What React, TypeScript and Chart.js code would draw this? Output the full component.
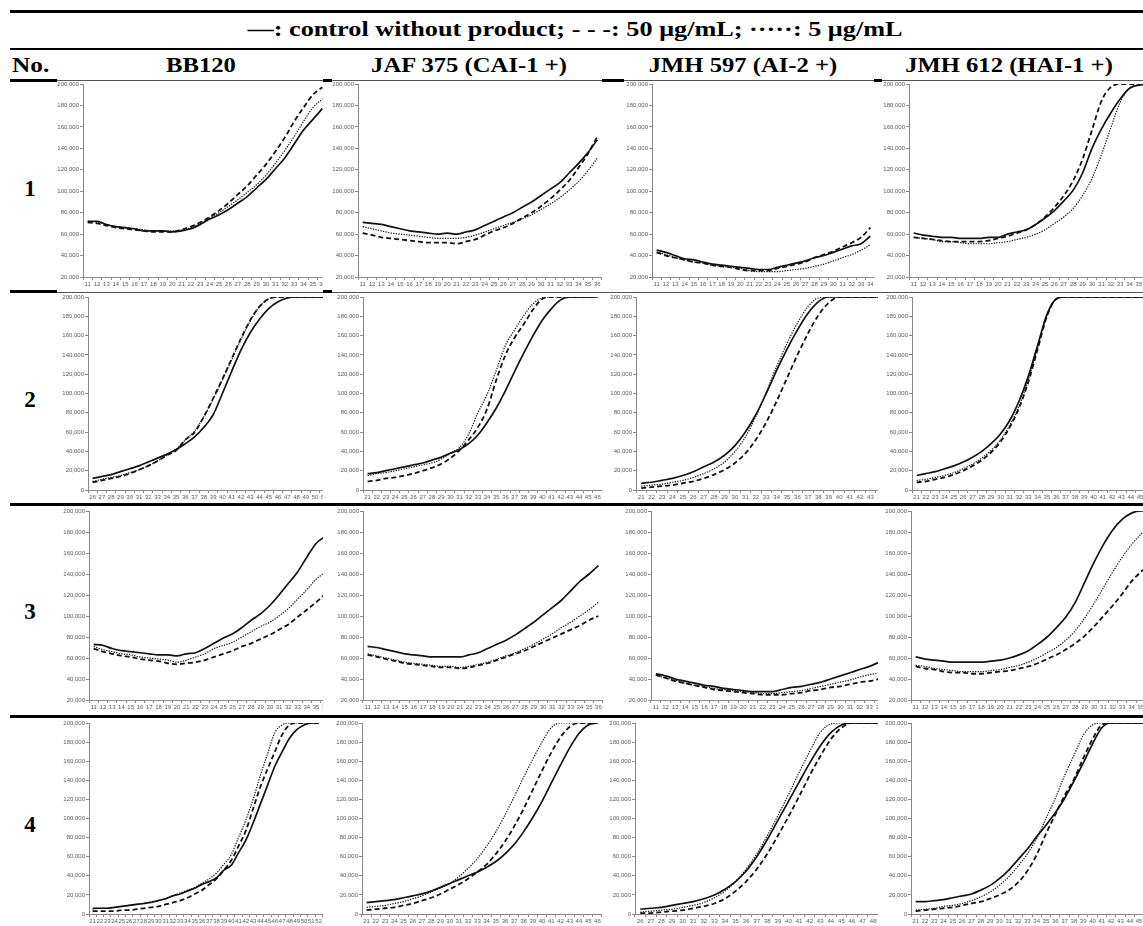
import React, { useEffect, useRef } from 'react';
import { Chart, registerables } from 'chart.js';
Chart.register(...registerables);

// ---------- category labels (cycle numbers) ----------
const cats11to36 = ['11','12','13','14','15','16','17','18','19','20','21','22','23','24','25','26','27','28','29','30','31','32','33','34','35','36'];
const cats11to34 = ['11','12','13','14','15','16','17','18','19','20','21','22','23','24','25','26','27','28','29','30','31','32','33','34'];
const cats26to51 = ['26','27','28','29','30','31','32','33','34','35','36','37','38','39','40','41','42','43','44','45','46','47','48','49','50','51'];
const cats21to46 = ['21','22','23','24','25','26','27','28','29','30','31','32','33','34','35','36','37','38','39','40','41','42','43','44','45','46'];
const cats21to44 = ['21','22','23','24','25','26','27','28','29','30','31','32','33','34','35','36','37','38','39','40','41','42','43','44'];
const cats21to52 = ['21','22','23','24','25','26','27','28','29','30','31','32','33','34','35','36','37','38','39','40','41','42','43','44','45','46','47','48','49','50','51','52'];
const cats26to49 = ['26','27','28','29','30','31','32','33','34','35','36','37','38','39','40','41','42','43','44','45','46','47','48','49'];

// ---------- series values (thousands of RLU) ----------
// Row 1
const r1BB120Control = [72,72,69,67,66,65,63,63,63,62,63,65,69,74,78,83,89,95,103,111,121,131,144,157,167,177];
const r1BB120Dose50 = [71,70,68,66,65,64,63,62,62,62,64,67,71,76,82,89,97,105,115,125,137,150,165,178,190,197];
const r1BB120Dose5 = [72,71,69,67,66,65,64,63,63,63,64,66,70,75,80,86,92,99,106,115,126,138,151,165,178,186];
const r1JAFControl = [71,70,69,67,65,63,62,61,60,61,60,62,64,68,72,76,80,85,90,96,102,108,117,126,136,148];
const r1JAFDose50 = [61,59,57,56,55,54,53,52,52,52,51,53,55,59,63,66,70,75,80,86,93,101,110,122,135,151];
const r1JAFDose5 = [67,65,63,61,60,59,58,57,56,56,56,57,59,62,65,68,71,74,78,83,88,94,101,109,119,131];
const r1JMH597Control = [45,43,40,37,36,34,32,31,30,29,28,27,27,29,31,33,35,38,40,43,46,49,51,58];
const r1JMH597Dose50 = [43,40,38,36,34,33,31,30,29,27,26,26,26,28,30,32,34,38,41,44,48,52,57,66];
const r1JMH597Dose5 = [43,41,38,36,34,33,31,30,29,28,26,25,25,25,26,27,28,30,32,35,38,41,45,50];
const r1JMH612Control = [61,59,58,57,57,56,56,56,57,57,60,62,64,69,75,82,91,101,117,140,158,173,186,196,199,200];
const r1JMH612Dose50 = [57,56,55,54,53,53,53,53,54,56,58,61,64,69,76,85,96,110,130,157,184,197,200,200,200,200];
const r1JMH612Dose5 = [57,56,55,53,53,52,51,51,51,52,53,55,57,60,64,70,76,84,96,112,134,159,183,196,199,200];
// Row 2
const r2BB120Control = [12,14,16,19,22,25,29,33,37,42,48,55,65,78,100,123,145,163,177,188,195,199,200,200,200,200];
const r2BB120Dose50 = [8,10,12,14,17,21,25,30,36,41,52,60,76,95,115,136,157,176,190,198,200,200,200,200,200,200];
const r2BB120Dose5 = [9,11,13,15,18,21,25,30,36,42,52,61,76,94,114,135,156,175,190,198,200,200,200,200,200,200];
const r2JAFControl = [17,18,20,22,24,26,28,31,34,38,42,48,57,70,85,103,123,142,160,176,188,197,200,200,200,200];
const r2JAFDose50 = [9,10,12,13,15,17,20,23,27,33,41,52,65,84,114,140,158,172,187,198,200,200,200,200,200,200];
const r2JAFDose5 = [15,17,18,20,22,24,26,28,32,38,44,58,80,99,124,150,166,181,193,199,200,200,200,200,200,200];
const r2JMH597Control = [7,8,10,12,15,19,24,29,36,46,60,78,100,124,146,166,183,195,200,200,200,200,200,200];
const r2JMH597Dose50 = [2,3,4,5,7,9,12,16,21,28,38,52,70,92,116,140,162,181,194,200,200,200,200,200];
const r2JMH597Dose5 = [4,5,6,8,10,13,17,22,29,40,55,76,101,128,152,173,190,199,200,200,200,200,200,200];
const r2JMH612Control = [15,17,19,22,25,29,34,40,48,58,72,92,118,150,182,198,200,200,200,200,200,200,200,200,200,200];
const r2JMH612Dose50 = [8,9,11,13,16,20,25,31,39,50,65,85,112,146,180,198,200,200,200,200,200,200,200,200,200,200];
const r2JMH612Dose5 = [10,11,13,15,18,22,27,33,41,52,67,87,114,148,181,198,200,200,200,200,200,200,200,200,200,200];
// Row 3
const r3BB120Control = [73,72,69,67,66,65,64,63,63,62,64,65,69,74,79,83,89,96,102,110,120,131,142,156,169,176];
const r3BB120Dose50 = [69,66,64,62,61,59,58,57,55,54,55,56,58,61,64,67,71,74,78,82,87,92,99,106,113,121];
const r3BB120Dose5 = [71,68,66,64,63,61,60,59,58,56,58,61,64,69,72,75,80,85,90,94,100,107,116,125,135,142];
const r3JAFControl = [71,70,68,66,64,63,62,61,61,61,61,63,65,69,73,77,82,88,94,101,108,115,124,133,140,148];
const r3JAFDose50 = [63,61,59,57,55,54,53,52,51,51,50,51,53,55,58,61,64,67,71,75,79,83,87,91,96,100];
const r3JAFDose5 = [64,62,60,58,56,55,54,53,52,52,51,52,54,56,59,62,65,69,73,78,83,89,94,100,106,113];
const r3JMH597Control = [45,43,40,38,36,34,33,31,30,29,28,28,28,30,32,33,35,37,40,43,46,49,52,56];
const r3JMH597Dose50 = [44,41,38,36,34,32,30,29,28,27,26,25,25,25,26,27,29,30,32,33,35,37,38,40];
const r3JMH597Dose5 = [44,41,39,36,34,33,31,30,29,28,27,26,26,27,28,29,31,33,35,37,39,42,44,46];
const r3JMH612Control = [61,59,58,57,56,56,56,56,57,58,60,63,67,73,80,89,99,113,132,151,168,182,192,198,200,200];
const r3JMH612Dose50 = [52,50,49,47,46,46,45,45,46,47,48,50,52,55,59,63,68,74,81,90,100,110,121,133,142,150];
const r3JMH612Dose5 = [53,52,50,49,48,47,47,47,48,49,51,53,56,60,65,70,77,86,98,112,127,142,156,168,178,186];
// Row 4
const r4BB120Control = [6,6,6,7,8,9,10,11,12,14,16,19,21,24,27,31,34,38,46,51,64,77,95,115,135,155,170,184,193,198,200,200];
const r4BB120Dose50 = [3,3,3,3,4,4,5,6,7,8,10,12,14,17,21,25,31,37,46,56,71,87,110,133,152,170,188,198,200,200,200,200];
const r4BB120Dose5 = [5,6,6,7,8,9,10,11,13,14,16,19,22,25,28,32,37,43,52,62,80,98,120,145,168,190,198,200,200,200,200,200];
const r4JAFControl = [12,13,14,15,17,19,21,24,28,32,36,40,44,49,55,63,73,86,101,118,137,156,174,189,198,200];
const r4JAFDose50 = [4,5,6,7,9,11,14,17,21,26,31,37,44,52,63,76,92,110,130,150,169,185,196,200,200,200];
const r4JAFDose5 = [7,8,9,11,13,16,19,23,27,32,39,48,58,71,86,104,123,143,162,180,195,200,200,200,200,200];
const r4JMH597Control = [5,6,7,9,11,13,16,20,26,34,45,60,78,98,118,138,158,176,190,198,200,200,200,200];
const r4JMH597Dose50 = [1,1,2,3,4,6,8,11,16,24,34,47,63,82,102,123,145,165,183,195,200,200,200,200];
const r4JMH597Dose5 = [2,3,4,5,7,9,12,17,24,34,47,63,82,103,125,148,170,190,199,200,200,200,200,200];
const r4JMH612Control = [13,13,14,15,17,19,21,25,30,37,46,57,68,81,93,106,121,139,158,178,195,200,200,200,200,200];
const r4JMH612Dose50 = [3,4,5,6,7,9,11,13,16,20,25,33,45,62,84,104,124,141,163,183,198,200,200,200,200,200];
const r4JMH612Dose5 = [4,5,6,8,9,11,14,18,23,30,39,50,63,79,100,121,145,166,187,198,200,200,200,200,200,200];

// ---------- table text ----------
const legendText = '—: control without product; - - -: 50 μg/mL; ·····: 5 μg/mL';
const headerNo = 'No.';
const strainHeaders = ['BB120', 'JAF 375 (CAI-1 +)', 'JMH 597 (AI-2 +)', 'JMH 612 (HAI-1 +)'];
const rowNumbers = ['1', '2', '3', '4'];
const yMins = [20000, 0, 20000, 0];
const yMax = 200000;
const yStep = 20000;

type Panel = { labels: string[]; control: number[]; dose50: number[]; dose5: number[] };

const panels: Panel[][] = [
  [
    { labels: cats11to36, control: r1BB120Control, dose50: r1BB120Dose50, dose5: r1BB120Dose5 },
    { labels: cats11to36, control: r1JAFControl, dose50: r1JAFDose50, dose5: r1JAFDose5 },
    { labels: cats11to34, control: r1JMH597Control, dose50: r1JMH597Dose50, dose5: r1JMH597Dose5 },
    { labels: cats11to36, control: r1JMH612Control, dose50: r1JMH612Dose50, dose5: r1JMH612Dose5 },
  ],
  [
    { labels: cats26to51, control: r2BB120Control, dose50: r2BB120Dose50, dose5: r2BB120Dose5 },
    { labels: cats21to46, control: r2JAFControl, dose50: r2JAFDose50, dose5: r2JAFDose5 },
    { labels: cats21to44, control: r2JMH597Control, dose50: r2JMH597Dose50, dose5: r2JMH597Dose5 },
    { labels: cats21to46, control: r2JMH612Control, dose50: r2JMH612Dose50, dose5: r2JMH612Dose5 },
  ],
  [
    { labels: cats11to36, control: r3BB120Control, dose50: r3BB120Dose50, dose5: r3BB120Dose5 },
    { labels: cats11to36, control: r3JAFControl, dose50: r3JAFDose50, dose5: r3JAFDose5 },
    { labels: cats11to34, control: r3JMH597Control, dose50: r3JMH597Dose50, dose5: r3JMH597Dose5 },
    { labels: cats11to36, control: r3JMH612Control, dose50: r3JMH612Dose50, dose5: r3JMH612Dose5 },
  ],
  [
    { labels: cats21to52, control: r4BB120Control, dose50: r4BB120Dose50, dose5: r4BB120Dose5 },
    { labels: cats21to46, control: r4JAFControl, dose50: r4JAFDose50, dose5: r4JAFDose5 },
    { labels: cats26to49, control: r4JMH597Control, dose50: r4JMH597Dose50, dose5: r4JMH597Dose5 },
    { labels: cats21to46, control: r4JMH612Control, dose50: r4JMH612Dose50, dose5: r4JMH612Dose5 },
  ],
];

// ---------- layout (pixels) ----------
const rowGeom = [
  { top: 84, bottom: 277, cellTop: 81, cellBottom: 291, numTop: 177 },
  { top: 297, bottom: 490, cellTop: 294, cellBottom: 503, numTop: 388 },
  { top: 511, bottom: 700, cellTop: 507, cellBottom: 715, numTop: 600 },
  { top: 723, bottom: 914, cellTop: 719, cellBottom: 926, numTop: 813 },
];
const colGeom = [
  [ { axisX: 83, step: 9.4, clipL: 57, clipR: 323 }, { axisX: 358, step: 9.4, clipL: 330, clipR: 604 }, { axisX: 652, step: 9.3, clipL: 622, clipR: 878 }, { axisX: 909, step: 9.4, clipL: 881, clipR: 1143 } ],
  [ { axisX: 88, step: 9.25, clipL: 57, clipR: 323 }, { axisX: 363, step: 9.2, clipL: 330, clipR: 604 }, { axisX: 636, step: 10.4, clipL: 608, clipR: 878 }, { axisX: 912, step: 9.3, clipL: 881, clipR: 1143 } ],
  [ { axisX: 89, step: 9.25, clipL: 57, clipR: 323 }, { axisX: 363, step: 9.24, clipL: 330, clipR: 604 }, { axisX: 651, step: 9.7, clipL: 622, clipR: 878 }, { axisX: 911, step: 9.375, clipL: 881, clipR: 1143 } ],
  [ { axisX: 89, step: 7.3, clipL: 57, clipR: 323 }, { axisX: 362, step: 9.23, clipL: 330, clipR: 604 }, { axisX: 635, step: 10.6, clipL: 606, clipR: 878 }, { axisX: 911, step: 9.3, clipL: 881, clipR: 1143 } ],
];
const headerCenters = [201, 469, 743, 1009];

const YW = 30;
const XH = 14;
const PT = 6;
const AXIS_COLOR = '#8a8a8a';
const TICK_COLOR = '#5a5a5a';
const LINE_COLOR = '#111111';
const TICK_FONT = { family: "'Liberation Sans Narrow', 'Liberation Sans', sans-serif", size: 6 };
const SERIF = "'Liberation Serif', 'Times New Roman', serif";

function MiniChart({ panel, row, col }: { panel: Panel; row: number; col: number }) {
  const ref = useRef<HTMLCanvasElement>(null);
  const rg = rowGeom[row];
  const cg = colGeom[row][col];
  const n = panel.labels.length;
  const W = Math.round(YW + n * cg.step);
  const H = PT + (rg.bottom - rg.top) + XH;
  useEffect(() => {
    if (!ref.current) return;
    const toRaw = (arr: number[]) => arr.map((v) => v * 1000);
    const chart = new Chart(ref.current, {
      type: 'line',
      data: {
        labels: panel.labels,
        datasets: [
          { label: 'control without product', data: toRaw(panel.control), borderColor: LINE_COLOR, borderWidth: 1.7, pointRadius: 0, cubicInterpolationMode: 'monotone', fill: false },
          { label: '50 μg/mL', data: toRaw(panel.dose50), borderColor: LINE_COLOR, borderWidth: 1.8, borderDash: [5, 3], pointRadius: 0, cubicInterpolationMode: 'monotone', fill: false },
          { label: '5 μg/mL', data: toRaw(panel.dose5), borderColor: LINE_COLOR, borderWidth: 1.2, borderDash: [1.3, 1.3], pointRadius: 0, cubicInterpolationMode: 'monotone', fill: false },
        ],
      },
      options: {
        responsive: false,
        animation: false,
        devicePixelRatio: 1,
        layout: { padding: { top: PT, right: 0, bottom: 0, left: 0 } },
        plugins: { legend: { display: false }, tooltip: { enabled: false } },
        scales: {
          x: {
            type: 'category',
            offset: true,
            grid: { offset: true, drawOnChartArea: false, drawTicks: true, tickLength: 3, color: AXIS_COLOR },
            border: { color: AXIS_COLOR, width: 1 },
            ticks: { autoSkip: false, maxRotation: 0, minRotation: 0, padding: 1, font: TICK_FONT, color: TICK_COLOR },
            afterFit: (s: any) => { s.height = XH; },
          },
          y: {
            min: yMins[row],
            max: yMax,
            grid: { drawOnChartArea: false, drawTicks: true, tickLength: 3, color: AXIS_COLOR },
            border: { color: AXIS_COLOR, width: 1 },
            ticks: { stepSize: yStep, padding: 1, font: TICK_FONT, color: TICK_COLOR, callback: (v: any) => Number(v).toLocaleString('en-US') },
            afterFit: (s: any) => { s.width = YW; },
          },
        },
      } as any,
    });
    return () => chart.destroy();
  }, [panel, row, col]);
  return (
    <div style={{ position: 'absolute', left: cg.clipL, top: rg.cellTop, width: cg.clipR - cg.clipL, height: rg.cellBottom - rg.cellTop, overflow: 'hidden', background: '#fff' }}>
      <canvas
        ref={ref}
        width={W}
        height={H}
        style={{ position: 'absolute', left: cg.axisX - YW - cg.clipL, top: rg.top - PT - rg.cellTop, width: W, height: H }}
      />
    </div>
  );
}

function HLine({ x1, x2, y, h, color }: { x1: number; x2: number; y: number; h: number; color: string }) {
  return <div style={{ position: 'absolute', left: x1, top: y, width: x2 - x1, height: h, background: color }} />;
}

export default function App() {
  return (
    <div style={{ position: 'fixed', left: 0, top: 0, width: 1143, height: 926, background: '#fff', overflow: 'hidden', fontFamily: SERIF, color: '#000' }}>
      {/* charts */}
      {panels.map((rowPanels, r) => rowPanels.map((p, c) => <MiniChart key={`${r}-${c}`} panel={p} row={r} col={c} />))}

      {/* rules */}
      <HLine x1={10} x2={1143} y={10} h={2.5} color="#000" />
      <HLine x1={10} x2={1143} y={48} h={2} color="#000" />
      <HLine x1={57} x2={1143} y={80} h={1} color="#555" />
      <HLine x1={10} x2={57} y={79} h={3} color="#000" />
      <HLine x1={323} x2={332} y={79} h={3} color="#000" />
      <HLine x1={602} x2={624} y={79} h={3} color="#000" />
      <HLine x1={874} x2={882} y={79} h={3} color="#000" />
      <HLine x1={57} x2={1143} y={292} h={1} color="#555" />
      <HLine x1={10} x2={57} y={290} h={3} color="#000" />
      <HLine x1={323} x2={332} y={290} h={3} color="#000" />
      <HLine x1={10} x2={1143} y={503} h={3} color="#000" />
      <HLine x1={10} x2={1143} y={715} h={3} color="#000" />

      {/* legend text */}
      <div style={{ position: 'absolute', left: 0, width: 1150, top: 19, textAlign: 'center', fontWeight: 'bold', fontSize: 21, lineHeight: '21px', whiteSpace: 'nowrap', transform: 'scaleX(1.25)', transformOrigin: '575px 50%' }}>{legendText}</div>

      {/* header */}
      <div style={{ position: 'absolute', left: 12, top: 54, fontWeight: 'bold', fontSize: 22, lineHeight: '22px', whiteSpace: 'nowrap', transform: 'scaleX(1.15)', transformOrigin: '0 50%' }}>{headerNo}</div>
      {strainHeaders.map((h, i) => (
        <div key={h} style={{ position: 'absolute', left: headerCenters[i] - 200, width: 400, top: 54, textAlign: 'center', fontWeight: 'bold', fontSize: 22, lineHeight: '22px', whiteSpace: 'nowrap', transform: 'scaleX(1.12)', transformOrigin: '50% 50%' }}>{h}</div>
      ))}

      {/* row numbers */}
      {rowNumbers.map((t, i) => (
        <div key={t} style={{ position: 'absolute', left: 10, width: 40, top: rowGeom[i].numTop, textAlign: 'center', fontWeight: 'bold', fontSize: 23, lineHeight: '23px' }}>{t}</div>
      ))}
    </div>
  );
}
